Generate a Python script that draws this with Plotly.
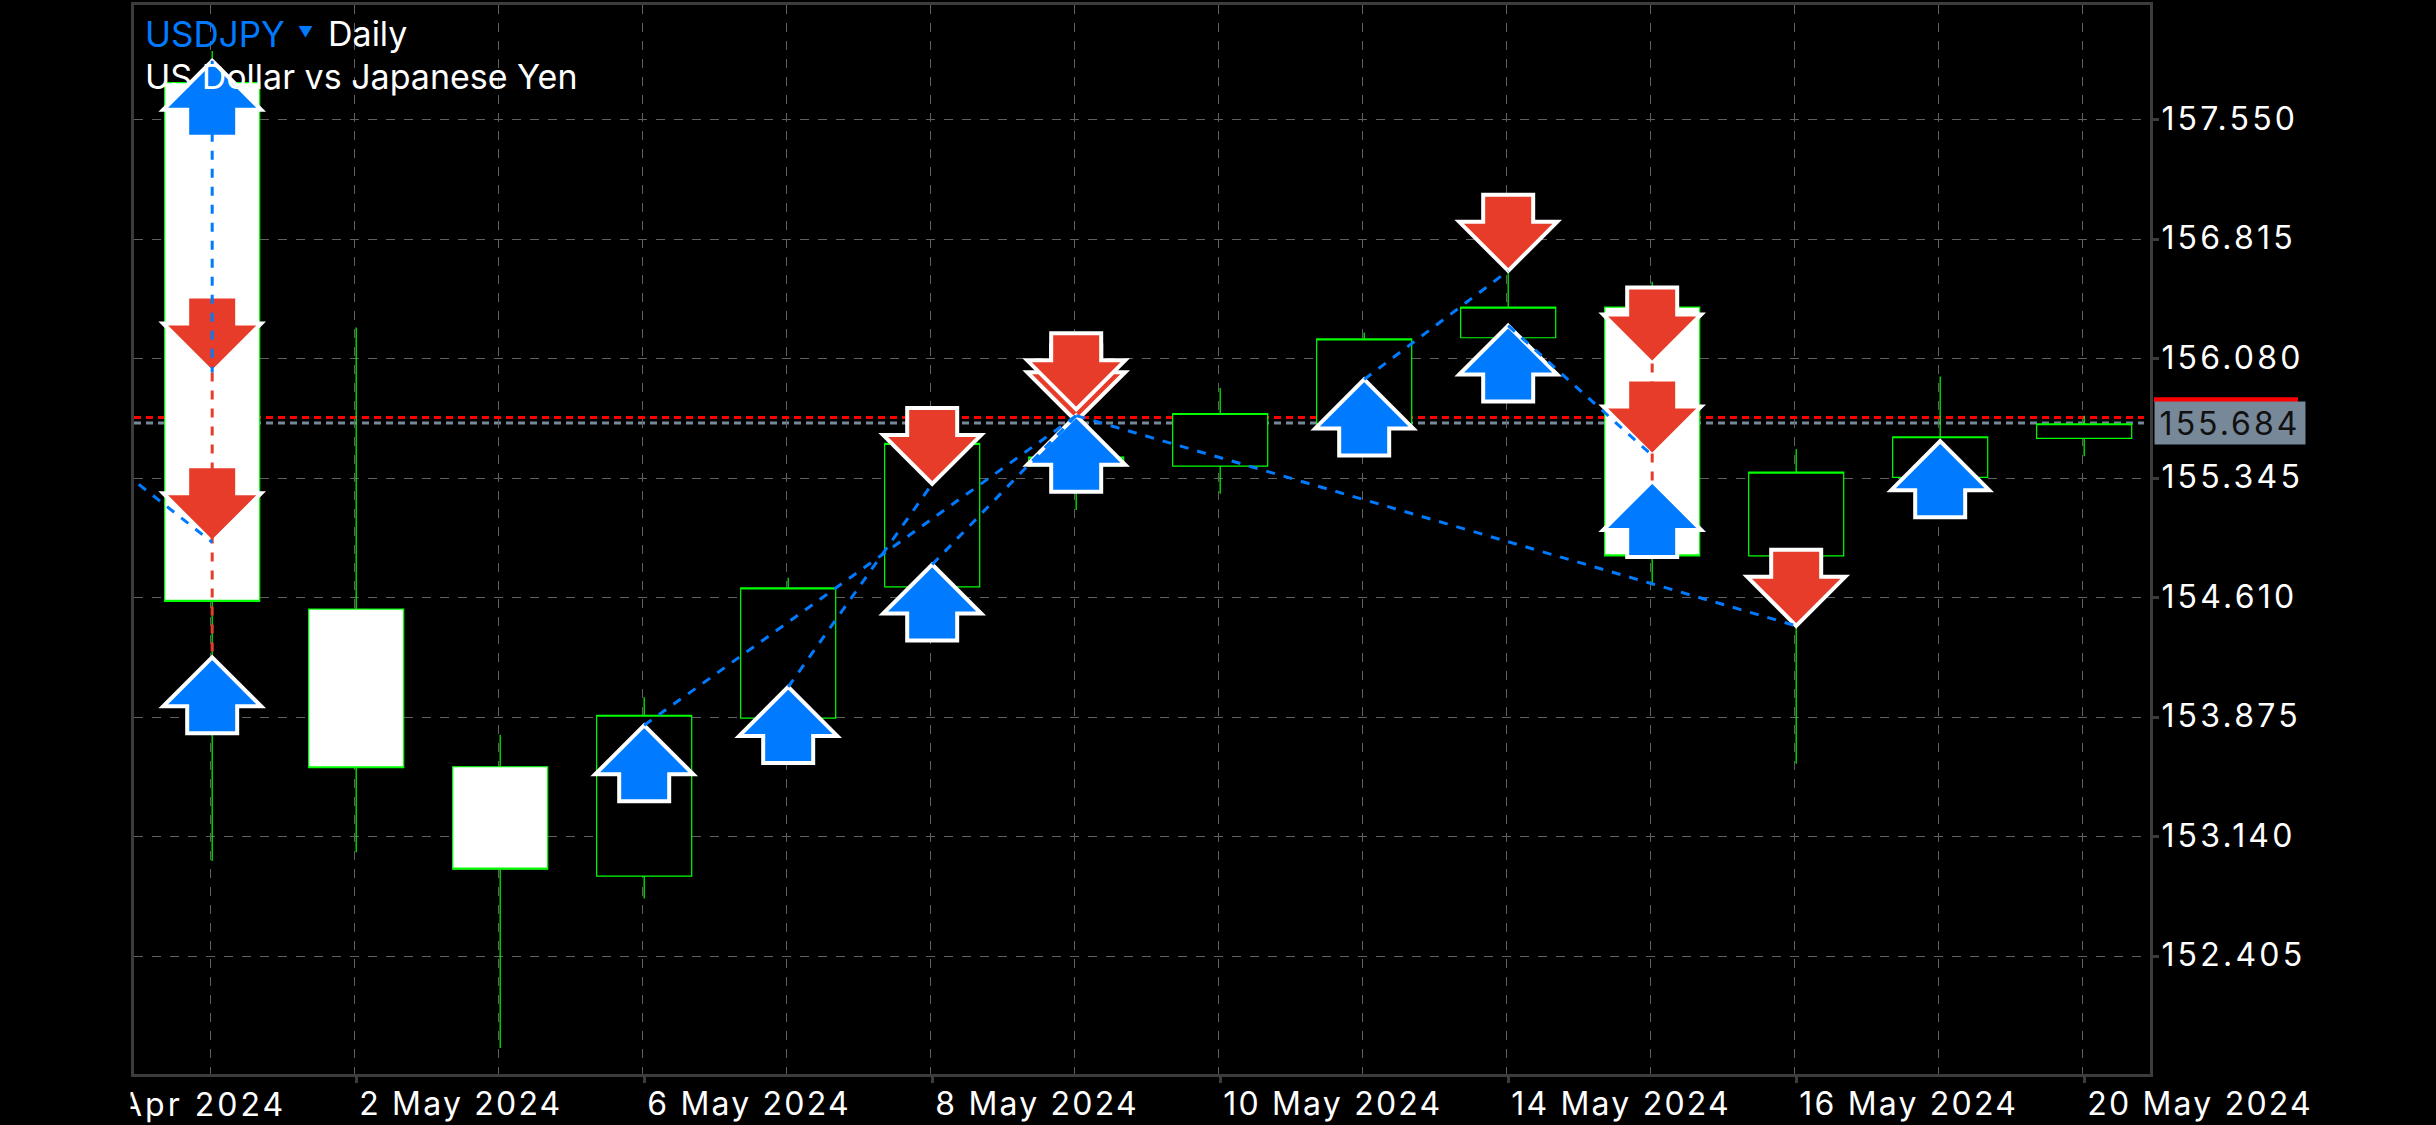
import plotly.graph_objects as go

# Daily candles
dates = ["1 May 2024", "2 May 2024", "3 May 2024", "6 May 2024", "7 May 2024", "8 May 2024", "9 May 2024",
         "10 May 2024", "13 May 2024", "14 May 2024", "15 May 2024", "16 May 2024", "17 May 2024", "20 May 2024"]
opens = [157.778, 154.540, 153.570, 152.897, 153.869, 154.677, 155.420,
         155.419, 155.680, 156.209, 156.398, 154.867, 155.350, 155.590]
highs = [157.973, 156.272, 153.767, 153.998, 154.733, 155.620, 155.700,
         155.900, 156.241, 156.650, 156.553, 155.523, 155.970, 155.730]
lows = [152.990, 153.044, 151.840, 152.759, 153.600, 154.600, 155.150,
        155.250, 155.500, 156.100, 154.685, 153.589, 155.300, 155.480]
closes = [154.587, 153.564, 152.940, 153.887, 154.671, 155.559, 155.475,
          155.743, 156.202, 156.398, 154.867, 155.382, 155.600, 155.680]
candle_idx = list(range(len(dates)))

# Price axis
price_ticks = [157.550, 156.815, 156.080, 155.345, 154.610, 153.875, 153.140, 152.405]
bid_price = 155.684
ask_price = 155.718

# Deals, drawn as arrows whose tip sits on the deal price
buy_idx = [0, 0, 3, 4, 5, 6, 8, 9, 10, 12]
buy_price = [157.913, 154.243, 153.825, 154.061, 154.814, 155.730, 155.953, 156.284, 155.328, 155.573]
sell_idx = [0, 0, 5, 6, 6, 9, 10, 10, 11]
sell_price = [155.996, 154.951, 155.310, 155.696, 155.769, 156.621, 156.051, 155.485, 154.437]

# Deal links: start index, start price, end index, end price
blue_from_idx = [-1, 0, 3, 4, 5, 6, 8, 9]
blue_from_price = [155.650, 157.913, 153.825, 154.061, 154.814, 155.730, 155.953, 156.284]
blue_to_idx = [0, 0, 6, 5, 6, 11, 9, 10]
blue_to_price = [154.951, 155.996, 155.730, 155.310, 155.730, 154.437, 156.621, 155.485]
red_from_idx = [0, 10]
red_from_price = [155.996, 156.051]
red_to_idx = [0, 10]
red_to_price = [154.243, 155.328]

FONT = "Inter"
UP_PATH = "M 0 0 L 49 -49 L 25 -49 L 25 -76 L -25 -76 L -25 -49 L -49 -49 Z"
DOWN_PATH = "M 0 0 L 49 49 L 25 49 L 25 76 L -25 76 L -25 49 L -49 49 Z"

# plotly has no letter spacing option, the terminal spaces its labels out
PAGE_CSS = """
document.head.insertAdjacentHTML('beforeend',
  '<style>body{margin:0}.ytick text{letter-spacing:3.2px}.xtick text{letter-spacing:2.2px}</style>');
document.querySelectorAll('.annotation-text').forEach(function (t) {
  if (/2024|155/.test(t.textContent)) { t.style.letterSpacing = '3px'; }
});
"""

fig = go.Figure()

fig.add_trace(go.Candlestick(
    x=candle_idx, open=opens, high=highs, low=lows, close=closes,
    increasing=dict(line=dict(color="#00ff00", width=1.2), fillcolor="#000000"),
    decreasing=dict(line=dict(color="#00ff00", width=1.2), fillcolor="#ffffff"),
    whiskerwidth=0, hoverinfo="skip", showlegend=False
))

# bid / ask lines sit behind the candles
for price, color in [(ask_price, "#ff0000"), (bid_price, "#778899")]:
    fig.add_shape(type="line", xref="x domain", yref="y", x0=0, x1=0.997, y0=price, y1=price,
                  line=dict(color=color, width=3, dash="7px,5px"), layer="below")

for i, p in zip(sell_idx, sell_price):
    fig.add_shape(type="path", xref="x", yref="y", xsizemode="pixel", ysizemode="pixel",
                  xanchor=i, yanchor=p, path=DOWN_PATH, fillcolor="#e83c2a",
                  line=dict(color="#ffffff", width=4))
for i, p in zip(buy_idx, buy_price):
    fig.add_shape(type="path", xref="x", yref="y", xsizemode="pixel", ysizemode="pixel",
                  xanchor=i, yanchor=p, path=UP_PATH, fillcolor="#007aff",
                  line=dict(color="#ffffff", width=4))

for x0, y0, x1, y1 in zip(red_from_idx, red_from_price, red_to_idx, red_to_price):
    fig.add_shape(type="line", xref="x", yref="y", x0=x0, y0=y0, x1=x1, y1=y1,
                  line=dict(color="#e83c2a", width=3, dash="9px,9px"))
for x0, y0, x1, y1 in zip(blue_from_idx, blue_from_price, blue_to_idx, blue_to_price):
    fig.add_shape(type="line", xref="x", yref="y", x0=x0, y0=y0, x1=x1, y1=y1,
                  line=dict(color="#007aff", width=3, dash="9px,9px"))

# symbol header
fig.add_annotation(xref="paper", yref="paper", x=0, y=1, xshift=9, yshift=-6, text="USDJPY", showarrow=False,
                   xanchor="left", yanchor="top", font=dict(family=FONT, size=35, color="#007aff"))
fig.add_annotation(xref="paper", yref="paper", x=0, y=1, xshift=162, yshift=-15, text="▼", showarrow=False,
                   xanchor="left", yanchor="top", font=dict(family=FONT, size=15, color="#007aff"))
fig.add_annotation(xref="paper", yref="paper", x=0, y=1, xshift=192, yshift=-6, text="Daily", showarrow=False,
                   xanchor="left", yanchor="top", font=dict(family=FONT, size=34, color="#ffffff"))
fig.add_annotation(xref="paper", yref="paper", x=0, y=1, xshift=9, yshift=-49, text="US Dollar vs Japanese Yen",
                   showarrow=False, xanchor="left", yanchor="top", font=dict(family=FONT, size=34, color="#ffffff"))

# current price tag
fig.add_annotation(xref="paper", yref="y", x=1, y=bid_price, xshift=4, text="155.684", showarrow=False,
                   xanchor="left", width=150, height=42, align="center", bgcolor="#778899", borderpad=0,
                   font=dict(family=FONT, size=32, color="#111111"))
fig.add_shape(type="rect", xref="paper", yref="y", x0=1.002, x1=1.0734, y0=155.813, y1=155.843,
              fillcolor="#ff0000", line=dict(width=0))

# date label cut off by the left edge, the black box does the cutting
fig.add_annotation(xref="paper", yref="paper", x=0, y=0, xshift=142, yshift=-9, text="Apr 2024", showarrow=False,
                   xanchor="right", yanchor="top", font=dict(family=FONT, size=32, color="#ffffff"))
fig.add_annotation(xref="paper", yref="paper", x=0, y=0, xshift=-3, yshift=-9, text=" ", showarrow=False,
                   xanchor="right", yanchor="top", width=40, height=40, bgcolor="#000000")

fig.update_layout(
    width=2436, height=1125,
    margin=dict(l=134, r=286, t=2, b=49),
    paper_bgcolor="#000000", plot_bgcolor="#000000",
    showlegend=False, boxgap=0.34, boxgroupgap=0,
    font=dict(family=FONT, size=32, color="#ffffff"),
    xaxis=dict(
        range=[-0.543, 13.457], rangeslider=dict(visible=False),
        tickmode="array", tickvals=candle_idx[1::2], ticktext=dates[1::2],
        ticklabelposition="outside right", ticks="outside", ticklen=6, tickwidth=3, tickcolor="#3c3c3c",
        showgrid=False, zeroline=False, showline=True, linecolor="#3c3c3c", linewidth=3, mirror=True,
        minor=dict(tickmode="array", tickvals=[i - 0.015 for i in candle_idx], showgrid=True,
                   gridcolor="#606060", gridwidth=1.3, griddash="9px,9px", ticks=""),
    ),
    yaxis=dict(
        range=[151.68, 158.256], side="right",
        tickmode="array", tickvals=price_ticks, ticktext=["%.3f" % p for p in price_ticks],
        ticks="outside", ticklen=6, tickwidth=3, tickcolor="#3c3c3c", ticklabelstandoff=-4, ticklabelshift=-1,
        showgrid=True, gridcolor="#606060", gridwidth=1.3, griddash="9px,9px",
        zeroline=False, showline=True, linecolor="#3c3c3c", linewidth=3, mirror=True,
    ),
)

fig.write_html("out.html", post_script=PAGE_CSS, config={"displayModeBar": False})
